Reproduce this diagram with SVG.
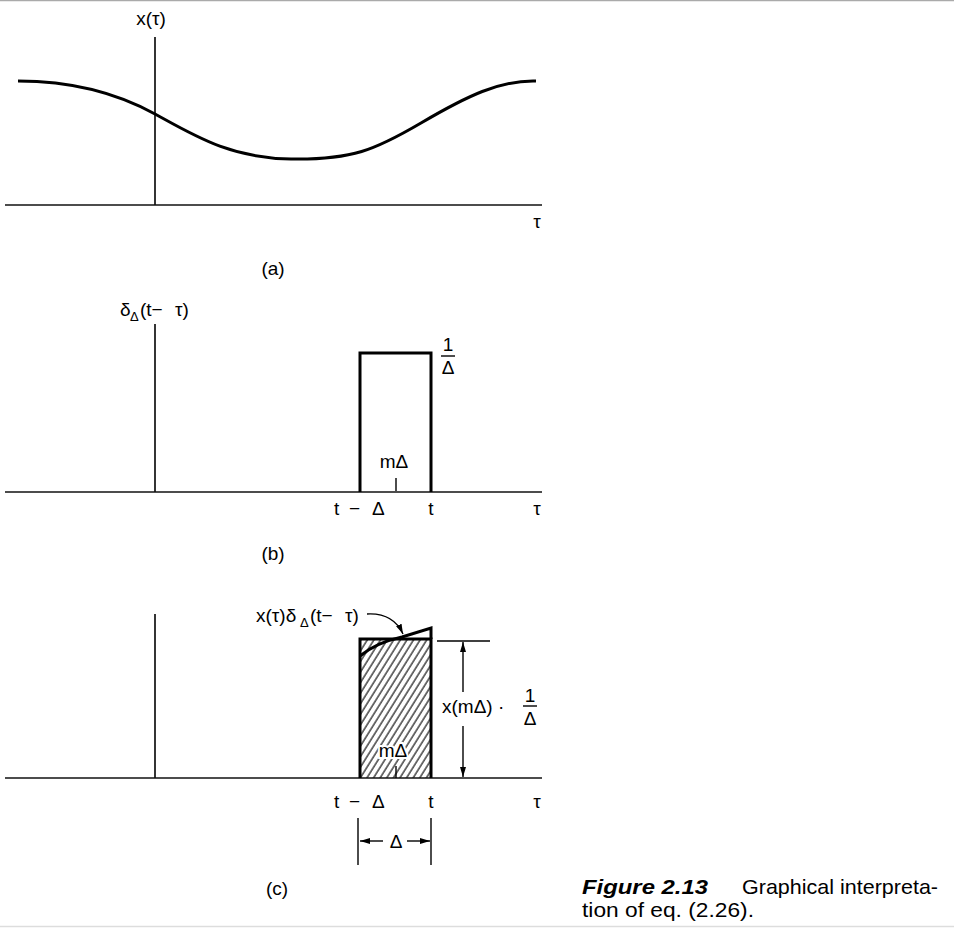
<svg xmlns="http://www.w3.org/2000/svg" width="954" height="928" viewBox="0 0 954 928">
<style>
text{font-family:"Liberation Sans",Arial,sans-serif;font-size:19px;fill:#000}
.ax{stroke:#111;stroke-width:1.7;fill:none}
.thk{stroke:#000;stroke-width:3;fill:none;stroke-linejoin:miter}
.thin{stroke:#000;stroke-width:1.4;fill:none}
.mid{text-anchor:middle}
.sub{font-size:13px}
.cap{font-family:"Liberation Sans Narrow","Liberation Sans",Arial,sans-serif;font-size:21px}
.halo{stroke:#fff;stroke-width:4;paint-order:stroke}
</style>
<defs>
<pattern id="hatch" patternUnits="userSpaceOnUse" width="5.6" height="20" patternTransform="rotate(32)">
<line x1="1" y1="0" x2="1" y2="20" stroke="#111" stroke-width="1.2"/>
</pattern>
<marker id="ah" viewBox="0 0 10 6" refX="10" refY="3" markerWidth="10" markerHeight="6" markerUnits="userSpaceOnUse" orient="auto">
<path d="M0,0 L10,3 L0,6 Z" fill="#000"/>
</marker>
</defs>
<rect width="954" height="928" fill="#fff"/>
<line x1="0" y1="0.5" x2="954" y2="0.5" stroke="#aaa" stroke-width="1.5"/>
<line x1="0" y1="926.5" x2="954" y2="926.5" stroke="#ddd" stroke-width="1.5"/>

<g id="panel-a">
<text x="151" y="25" class="mid">x(τ)</text>
<line class="ax" x1="155" y1="37" x2="155" y2="205"/>
<line class="ax" x1="5" y1="205" x2="542" y2="205"/>
<text x="537" y="228" class="mid">τ</text>
<path class="thk" d="M18,81 C70,81 115,92 155,114 S230,158 291,159 S375,150 421,123 S500,80 536,81"/>
<text x="273" y="275" class="mid">(a)</text>
</g>

<g id="panel-b">
<text x="120" y="316">δ</text>
<text x="130" y="321" class="sub">Δ</text>
<text x="140" y="316">(t−</text>
<text x="175" y="316">τ)</text>
<line class="ax" x1="155" y1="324" x2="155" y2="492"/>
<line class="ax" x1="5" y1="492" x2="542" y2="492"/>
<path class="thk" d="M360,492 V353 H431 V492"/>
<text x="448" y="351" class="mid">1</text>
<line class="thin" x1="441" y1="356" x2="455" y2="356"/>
<text x="448" y="374" class="mid">Δ</text>
<text x="394" y="468" class="mid">mΔ</text>
<line class="thin" x1="396" y1="478" x2="396" y2="491"/>
<text x="334" y="515">t</text>
<text x="349" y="515">−</text>
<text x="372" y="515">Δ</text>
<text x="431" y="515" class="mid">t</text>
<text x="537" y="515" class="mid">τ</text>
<text x="273" y="560" class="mid">(b)</text>
</g>

<g id="panel-c">
<line class="ax" x1="155" y1="614" x2="155" y2="778"/>
<line class="ax" x1="5" y1="778" x2="542" y2="778"/>
<rect x="360" y="639" width="71" height="139" fill="url(#hatch)"/>
<path class="thk" d="M360,778 V639 H431 V778"/>
<path class="thk" d="M360,656 C372,646 388,640 402,637 L431,628 V639"/>
<text x="256" y="622">x(τ)δ</text>
<text x="300" y="627" class="sub">Δ</text>
<text x="310" y="622">(t−</text>
<text x="345" y="622">τ)</text>
<text x="393" y="757" class="mid halo">mΔ</text>
<line class="thin" x1="396" y1="766" x2="396" y2="778"/>
<text x="442" y="713">x(mΔ) ·</text>
<text x="530" y="702" class="mid">1</text>
<line class="thin" x1="523" y1="706" x2="537" y2="706"/>
<text x="530" y="725" class="mid">Δ</text>
<text x="334" y="808">t</text>
<text x="349" y="808">−</text>
<text x="372" y="808">Δ</text>
<text x="431" y="808" class="mid">t</text>
<text x="537" y="808" class="mid">τ</text>
<line class="thin" x1="358" y1="818" x2="358" y2="865"/>
<line class="thin" x1="431" y1="818" x2="431" y2="865"/>
<text x="396" y="848" class="mid">Δ</text>
<text x="277" y="895" class="mid">(c)</text>
</g>

<g id="connectors">
<path class="thin" d="M367,614 C385,613 397,621 403,634" marker-end="url(#ah)"/>
<line class="thin" x1="437" y1="641" x2="490" y2="641"/>
<line class="thin" x1="463" y1="692" x2="463" y2="642" marker-end="url(#ah)"/>
<line class="thin" x1="463" y1="726" x2="463" y2="777" marker-end="url(#ah)"/>
<line class="thin" x1="383" y1="841" x2="360" y2="841" marker-end="url(#ah)"/>
<line class="thin" x1="407" y1="841" x2="430" y2="841" marker-end="url(#ah)"/>
</g>

<g id="caption">
<text x="582" y="894" class="cap" font-weight="bold" font-style="italic" textLength="126" lengthAdjust="spacingAndGlyphs">Figure 2.13</text>
<text x="742" y="894" class="cap" textLength="196" lengthAdjust="spacingAndGlyphs">Graphical interpreta-</text>
<text x="582" y="917" class="cap" textLength="172" lengthAdjust="spacingAndGlyphs">tion of eq. (2.26).</text>
</g>
</svg>
